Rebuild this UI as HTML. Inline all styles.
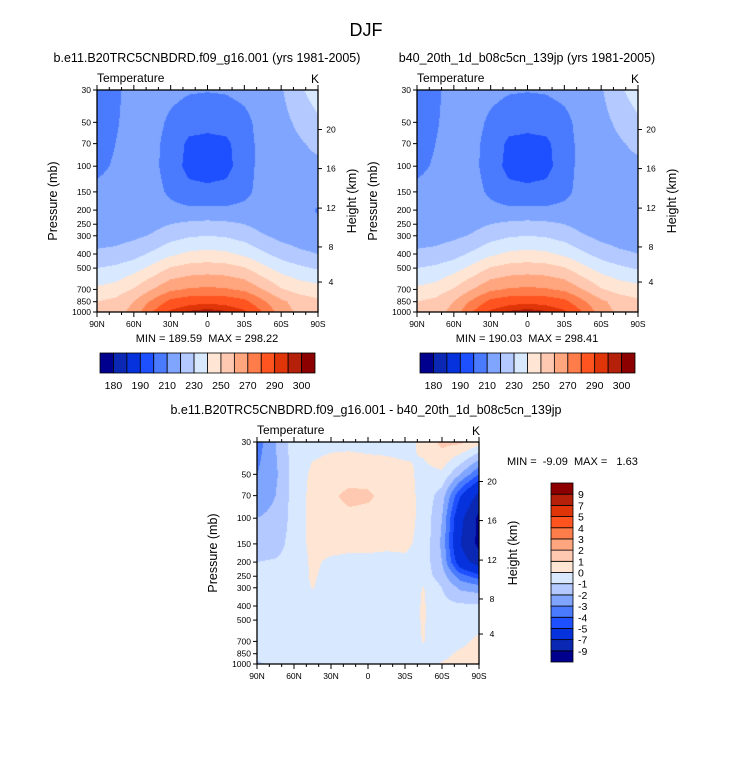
<!DOCTYPE html>
<html><head><meta charset="utf-8">
<style>
body{margin:0;background:#fff;width:733px;height:758px;position:relative;overflow:hidden;font-family:"Liberation Sans",sans-serif;}
canvas{position:absolute;}
svg{position:absolute;left:0;top:0;}
text{white-space:pre;}
</style></head>
<body>
<canvas id="c1" style="left:97px;top:90px" width="221" height="222"></canvas>
<canvas id="c2" style="left:417px;top:90px" width="221" height="222"></canvas>
<canvas id="c3" style="left:257px;top:442px" width="222" height="222"></canvas>
<svg id="svg" width="733" height="758"></svg>
<script>
const lats=[90,75,60,45,30,15,0,-15,-30,-45,-60,-75,-90];
const levels=[30,50,70,100,150,200,250,300,400,500,700,850,1000];
const tempA=[
[204,208,214,215,213,211,210.5,211,213,216,219,228,236],
[205,209,214,214,208,204,203,204,207,214,217,222,228],
[206,210,214,213,206,198,197,198,205,214,216,219,222],
[208,211,214,213,205,197,196,197,205,214,216,218,218],
[212,213,214,214,208,203,202,203,207,214,219,216,214],
[213,214,214,214,213,212,212,212,213,214,214,214,209],
[214,214,215,217,220,222,223,222,220,216,214,214,212],
[215,216,218,221,226,229,230,229,226,221,217,215,214],
[222,223,226,232,238,242,243,242,238,232,226,222,220],
[230,232,236,243,251,254,255,254,251,243,236,232,229],
[242,244,251,260,268,271,272,271,268,260,251,246,244],
[250,253,260,272,283,287,288,287,283,272,262,256,252],
[252,255,264,280,292,296,298,296,292,280,264,258,256]];
const tempB=[
[204,208,214,215,213,211,210.5,211,213,216,219,228,236],
[205,209,214,214,208,204,203,204,207,214,217,222,228],
[206,210,214,213,206,198,197,198,205,214,216,219,222],
[208,211,214,213,205,197,196,197,205,214,216,218,218],
[212,213,214,214,208,203,202,203,207,214,219,216,214],
[213,214,214,214,213,212,212,212,213,214,214,214,210],
[214,214,215,217,220,222,223,222,220,216,214,214,213],
[215,216,218,221,226,229,230,229,226,221,217,215,215],
[222,223,226,232,238,242,243,242,238,232,226,222,220],
[230,232,236,243,251,254,255,254,251,243,236,232,229],
[242,244,251,260,268,271,272,271,268,260,251,246,244],
[250,253,260,272,283,287,288,287,283,272,262,256,252],
[252,255,264,280,292,296,298,296,292,280,264,258,256]];
const diff=[
[-3.5,-2,-0.5,-0.3,-0.2,-0.2,-0.3,-0.3,-0.4,0.3,1.3,1.2,0.5],
[-3,-2.2,-0.6,0.2,0.4,0.5,0.5,0.4,0.3,-0.3,-0.2,-2,-4],
[-2.5,-2,-0.6,0.3,0.8,1.3,1.2,0.6,0.4,-0.3,-1.5,-5,-7.5],
[-2,-1.8,-0.6,0.3,0.6,0.7,0.6,0.5,0.4,-0.3,-2,-6.5,-9.5],
[-1.5,-1.4,-0.6,0.3,0.4,0.3,0.3,0.2,0.2,-0.3,-2.2,-7,-9.5],
[-1,-0.9,-0.7,0.2,-0.2,-0.3,-0.3,-0.3,-0.2,-0.4,-2,-6,-8],
[-0.6,-0.6,-0.6,0.15,-0.4,-0.4,-0.4,-0.4,-0.4,-0.5,-1.5,-3.5,-4.5],
[-0.6,-0.6,-0.6,0.05,-0.5,-0.5,-0.5,-0.5,-0.5,0.05,-1,-2.2,-2.5],
[-0.6,-0.6,-0.6,-0.5,-0.5,-0.5,-0.5,-0.5,-0.5,0.1,-0.7,-0.8,-0.8],
[-0.6,-0.6,-0.6,-0.5,-0.5,-0.5,-0.5,-0.5,-0.5,0.1,-0.8,-0.6,-0.6],
[-0.6,-0.6,-0.6,-0.5,-0.5,-0.5,-0.5,-0.5,-0.5,0.05,-0.6,-0.3,0.3],
[-0.6,-0.6,-0.6,-0.5,-0.5,-0.5,-0.5,-0.5,-0.5,-0.5,-0.3,0.2,0.4],
[-1.2,-0.6,-0.5,-0.5,-0.5,-0.5,-0.5,-0.5,-0.5,-0.5,0.1,0.3,0.3]];
const tempBounds=[180,185,190,200,210,220,230,240,250,260,270,280,290,295,300];
const tempTickLabels=["180","190","210","230","250","270","290","300"];
const diffBounds=[-9,-7,-5,-4,-3,-2,-1,0,1,2,3,4,5,7,9];
const diffTickLabels=["-9","-7","-5","-4","-3","-2","-1","0","1","2","3","4","5","7","9"];
const colors=["#00008f","#0a28b4","#0532dc","#1e50ff","#4a7bff","#7fa5ff","#b3c9ff","#d7e8ff","#ffe6d4","#ffc8b0","#ffa67e","#ff7d4a","#ff5420","#e03508","#b4200a","#8c0000"];
const pressTicks=[30,50,70,100,150,200,250,300,400,500,700,850,1000];
const heightTicks=[20,16,12,8,4];
const heightY=[0.178,0.354,0.532,0.707,0.865];
const latTicks=["90N","60N","30N","0","30S","60S","90S"];

function yOfP(p,h){return (Math.log(p)-Math.log(30))/(Math.log(1000)-Math.log(30))*h;}
function colorIdx(v,b){let i=0;while(i<b.length&&v>=b[i])i++;return i;}
function hex(c){return [parseInt(c.slice(1,3),16),parseInt(c.slice(3,5),16),parseInt(c.slice(5,7),16)];}
const rgb=colors.map(hex);
function draw(id,field,bounds){
  const cv=document.getElementById(id),ctx=cv.getContext('2d');
  const W=cv.width,H=cv.height,img=ctx.createImageData(W,H);
  const ly=levels.map(p=>yOfP(p,H));
  for(let y=0;y<H;y++){
    let r=0;while(r<levels.length-2&&ly[r+1]<y+0.5)r++;
    const ty=Math.min(1,Math.max(0,(y+0.5-ly[r])/(ly[r+1]-ly[r])));
    for(let x=0;x<W;x++){
      const fx=(x+0.5)/W*(lats.length-1);let c=Math.min(lats.length-2,Math.floor(fx));const tx=fx-c;
      const v=(field[r][c]*(1-tx)+field[r][c+1]*tx)*(1-ty)+(field[r+1][c]*(1-tx)+field[r+1][c+1]*tx)*ty;
      const k=rgb[colorIdx(v,bounds)],o=(y*W+x)*4;
      img.data[o]=k[0];img.data[o+1]=k[1];img.data[o+2]=k[2];img.data[o+3]=255;
    }
  }
  ctx.putImageData(img,0,0);
}
draw('c1',tempA,tempBounds);draw('c2',tempB,tempBounds);draw('c3',diff,diffBounds);

const svg=document.getElementById('svg');const NS="http://www.w3.org/2000/svg";
function el(t,a,txt){const e=document.createElementNS(NS,t);for(const k in a)e.setAttribute(k,a[k]);if(txt!==undefined)e.textContent=txt;svg.appendChild(e);return e;}
function txt(x,y,s,size,anchor,name,extra){const e=el('text',Object.assign({x:x,y:y,'font-size':size,'text-anchor':anchor||'middle','font-family':'Liberation Sans, sans-serif',fill:'#000'},extra||{}),s);

return e;}

txt(366,36,"DJF",18,'middle','main-title');
function panel(L,T,W,H,pre,title,titleX,titleY,minmax,mmX,mmY,mmAnchor){
  txt(titleX,titleY,title,12.5,'middle',pre+'-title');
  txt(L,T-8,"Temperature",12,'start',pre+'-variable-label');
  txt(L+W-3,T-7,"K",12,'middle',pre+'-units-label');
  const f=el('rect',{x:L,y:T,width:W,height:H,fill:'none',stroke:'#000','stroke-width':1.3});
  
  
  pressTicks.forEach(p=>{const y=T+yOfP(p,H);
    el('line',{x1:L-4,y1:y,x2:L,y2:y,stroke:'#000'});
    txt(L-6,y+3,String(p),8.5,'end',pre+'-pressure-tick');});
  heightTicks.forEach((h,i)=>{const y=T+heightY[i]*H;
    el('line',{x1:L+W,y1:y,x2:L+W+4,y2:y,stroke:'#000'});
    txt(L+W+13,y+3,String(h),8.5,'middle',pre+'-height-tick');});
  for(let i=0;i<=18;i++){const x=L+W*i/18,len=(i%3==0)?5:3;
    el('line',{x1:x,y1:T+H,x2:x,y2:T+H+len,stroke:'#000'});
    el('line',{x1:x,y1:T,x2:x,y2:T-len,stroke:'#000'});}
  latTicks.forEach((s,i)=>txt(L+W*i/6,T+H+15,s,8.5,'middle',pre+'-lat-tick'));
  txt(L-40,T+H/2,"Pressure (mb)",12.5,'middle',pre+'-y-axis-title',{transform:`rotate(-90 ${L-40} ${T+H/2})`});
  txt(L+W+38,T+H/2,"Height (km)",12.5,'middle',pre+'-y2-axis-title',{transform:`rotate(-90 ${L+W+38} ${T+H/2})`});
  txt(mmX,mmY,minmax,11,mmAnchor,pre+'-min-max');
}
panel(97,90,221,222,'left',"b.e11.B20TRC5CNBDRD.f09_g16.001 (yrs 1981-2005)",207,62,"MIN = 189.59  MAX = 298.22",207,342,'middle');
panel(417,90,221,222,'right',"b40_20th_1d_b08c5cn_139jp (yrs 1981-2005)",527,62,"MIN = 190.03  MAX = 298.41",527,342,'middle');
panel(257,442,222,222,'diff',"b.e11.B20TRC5CNBDRD.f09_g16.001 - b40_20th_1d_b08c5cn_139jp",366,414,"MIN =  -9.09  MAX =   1.63",507,465,'start');

function hbar(L,T,W,H,pre){
  const n=colors.length,bw=W/n;
  colors.forEach((c,i)=>{const r=el('rect',{x:L+i*bw,y:T,width:bw,height:H,fill:c,stroke:'#000','stroke-width':0.8});
    
    });
  tempTickLabels.forEach((s,i)=>txt(L+(1+2*i)*bw,T+H+16,s,10.5,'middle',pre+'-colorbar-label'));
}
hbar(100,353,215,20,'left');hbar(420,353,215,20,'right');
(function(){const L=551,T=483,W=22,H=179,n=colors.length,bh=H/n;
  colors.forEach((c,i)=>{const r=el('rect',{x:L,y:T+(n-1-i)*bh,width:W,height:bh,fill:c,stroke:'#000','stroke-width':0.8});
    
    });
  diffTickLabels.forEach((s,i)=>txt(L+W+5,T+(n-1-i)*bh+4,s,10.5,'start','diff-colorbar-label'));
})();
</script>
</body></html>
